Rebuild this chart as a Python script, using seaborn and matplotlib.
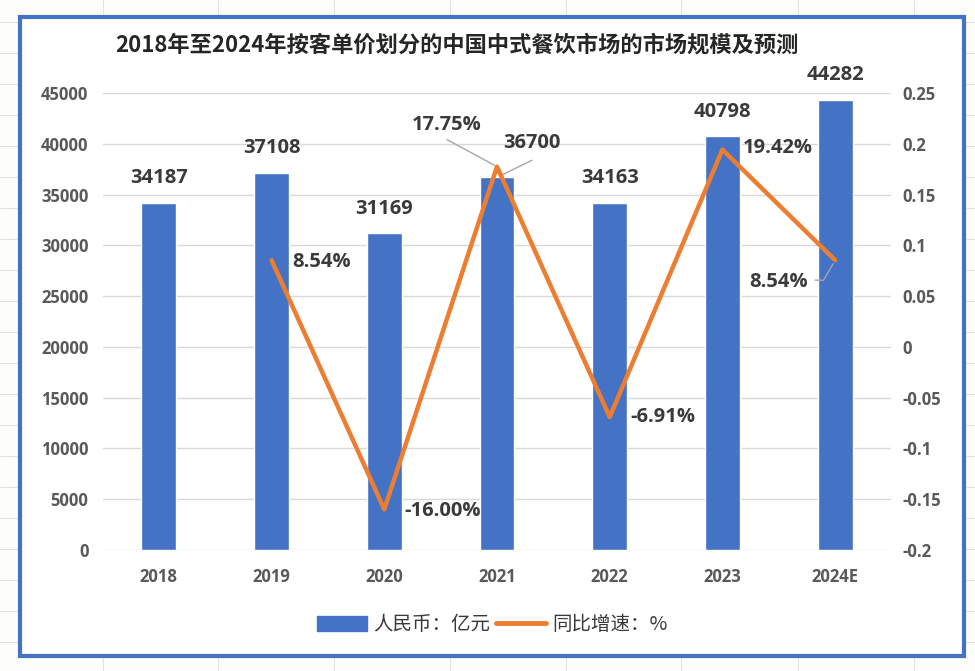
import numpy as np
import matplotlib
matplotlib.use("Agg")
import matplotlib.pyplot as plt
import seaborn as sns
from matplotlib.lines import Line2D
from matplotlib.patches import Patch, Rectangle

# data
years = ["2018", "2019", "2020", "2021", "2022", "2023", "2024E"]
market = [34187, 37108, 31169, 36700, 34163, 40798, 44282]
growth_years = ["2019", "2020", "2021", "2022", "2023", "2024E"]
growth = [0.0854, -0.16, 0.1775, -0.0691, 0.1942, 0.0854]
growth_labels = ["8.54%", "-16.00%", "17.75%", "-6.91%", "19.42%", "8.54%"]
left_ticks = [0, 5000, 10000, 15000, 20000, 25000, 30000, 35000, 40000, 45000]
right_ticks = [-0.2, -0.15, -0.1, -0.05, 0, 0.05, 0.1, 0.15, 0.2, 0.25]
right_tick_labels = ["-0.2", "-0.15", "-0.1", "-0.05", "0", "0.05", "0.1", "0.15", "0.2", "0.25"]

BLUE = "#4472C4"
ORANGE = "#ED7D31"
TICK_C = "#595959"
LABEL_C = "#3A3A3A"

sns.set_style("white")
plt.rcParams['font.family'] = ['Open Sans', 'Noto Sans CJK SC', 'DejaVu Sans']

W, H = 975, 671
fig = plt.figure(figsize=(W / 100, H / 100), dpi=100)
fig.patch.set_facecolor("#FDFDFA")

# spreadsheet cells behind the chart
for yp in range(22, 660, 31):
    fig.add_artist(Line2D([0, 1], [1 - yp / H] * 2, color="#E3E3E3", lw=0.8, zorder=-3))
for xp in [103, 218, 334, 450, 566, 681, 798, 914]:
    fig.add_artist(Line2D([xp / W] * 2, [0, 1], color="#E3E3E3", lw=0.8, zorder=-3))

# chart frame
fig.add_artist(Rectangle((20 / W, 1 - 656 / H), (964 - 20) / W, (656 - 17) / H,
                         transform=fig.transFigure, facecolor="white",
                         edgecolor=BLUE, lw=3, zorder=-2))

ax = fig.add_axes([102.5 / W, 1 - 550 / H, (891.5 - 102.5) / W, (550 - 93) / H])
ax.set_facecolor("none")

sns.barplot(x=years, y=market, ax=ax, color=BLUE, saturation=1, width=0.31, zorder=2)
ax.set_xlim(-0.5, len(years) - 0.5)
ax.set_ylim(0, 45000)
ax.set_yticks(left_ticks)
ax.set_yticklabels([str(t) for t in left_ticks])
ax.set_axisbelow(True)
ax.yaxis.grid(True, color="#D9D9D9", lw=1)
ax.set_xlabel("")
ax.set_ylabel("")
for s in ax.spines.values():
    s.set_visible(False)
ax.tick_params(axis="y", length=0, pad=10, labelsize=12, labelcolor=TICK_C)
ax.tick_params(axis="x", length=0, pad=13, labelsize=12, labelcolor=TICK_C)
for lab in ax.get_xticklabels() + ax.get_yticklabels():
    lab.set_fontweight("bold")

# bar value labels
bar_offsets = [(0, 25), (0, 25), (0, 24), (35, 34), (0, 25), (0, 24), (0, 25)]
for i, (v, off) in enumerate(zip(market, bar_offsets)):
    ax.annotate(str(v), (i, v), xytext=off, textcoords="offset pixels",
                ha="center", va="center", fontsize=14.5, fontweight="bold", color=LABEL_C)
# leader for 2021 bar label
ax.annotate("", (years.index("2021"), market[3]), xytext=(35, 17), textcoords="offset pixels",
            arrowprops=dict(arrowstyle="-", color="#A6A6A6", lw=1, shrinkA=0, shrinkB=2))

ax2 = ax.twinx()
ax2.set_facecolor("none")
gx = [years.index(y) for y in growth_years]
sns.lineplot(x=gx, y=growth, ax=ax2, color=ORANGE, lw=3.2, sort=False)
ax2.set_ylim(-0.2, 0.25)
ax2.set_xlim(-0.5, len(years) - 0.5)
ax2.set_yticks(right_ticks)
ax2.set_yticklabels(right_tick_labels)
ax2.set_ylabel("")
for s in ax2.spines.values():
    s.set_visible(False)
ax2.tick_params(axis="y", length=0, pad=8, labelsize=12, labelcolor=TICK_C)
for lab in ax2.get_yticklabels():
    lab.set_fontweight("bold")

# growth labels
g_offsets = [(50, -2), (58, -2), (-50, 42), (53, 0), (55, 2), (-57, -22)]
for x, v, t, off in zip(gx, growth, growth_labels, g_offsets):
    ax2.annotate(t, (x, v), xytext=off, textcoords="offset pixels",
                 ha="center", va="center", fontsize=14.5, fontweight="bold", color=LABEL_C)
# leader lines for 2021 and 2024E
ax2.annotate("", (gx[2], growth[2]), xytext=(-50, 27), textcoords="offset pixels",
             arrowprops=dict(arrowstyle="-", color="#A6A6A6", lw=1, shrinkA=0, shrinkB=2))
ax2.annotate("", (gx[5], growth[5]), xytext=(-20, -20), textcoords="offset pixels",
             arrowprops=dict(arrowstyle="-", color="#A6A6A6", lw=1, shrinkA=0, shrinkB=3,
                             connectionstyle="angle,angleA=0,angleB=60,rad=0"))

fig.text(457 / W, 1 - 45 / H, "2018年至2024年按客单价划分的中国中式餐饮市场的市场规模及预测",
         ha="center", va="center", fontsize=16, fontweight="bold", color="#262626",
         family=["Noto Sans CJK SC", "DejaVu Sans"])

handles = [Patch(facecolor=BLUE, edgecolor=BLUE),
           Line2D([0], [0], color=ORANGE, lw=3.5)]
leg = fig.legend(handles, ["人民币：亿元", "同比增速：%"], loc="center",
                 bbox_to_anchor=(492 / W, 1 - 625 / H), ncol=2, frameon=False,
                 handlelength=2.6, handleheight=0.8, handletextpad=0.3, columnspacing=0.3,
                 prop={"family": ["Noto Sans CJK SC"], "size": 14})
for t in leg.get_texts():
    t.set_color(LABEL_C)

fig.savefig("out.png", dpi=100, facecolor=fig.get_facecolor())
